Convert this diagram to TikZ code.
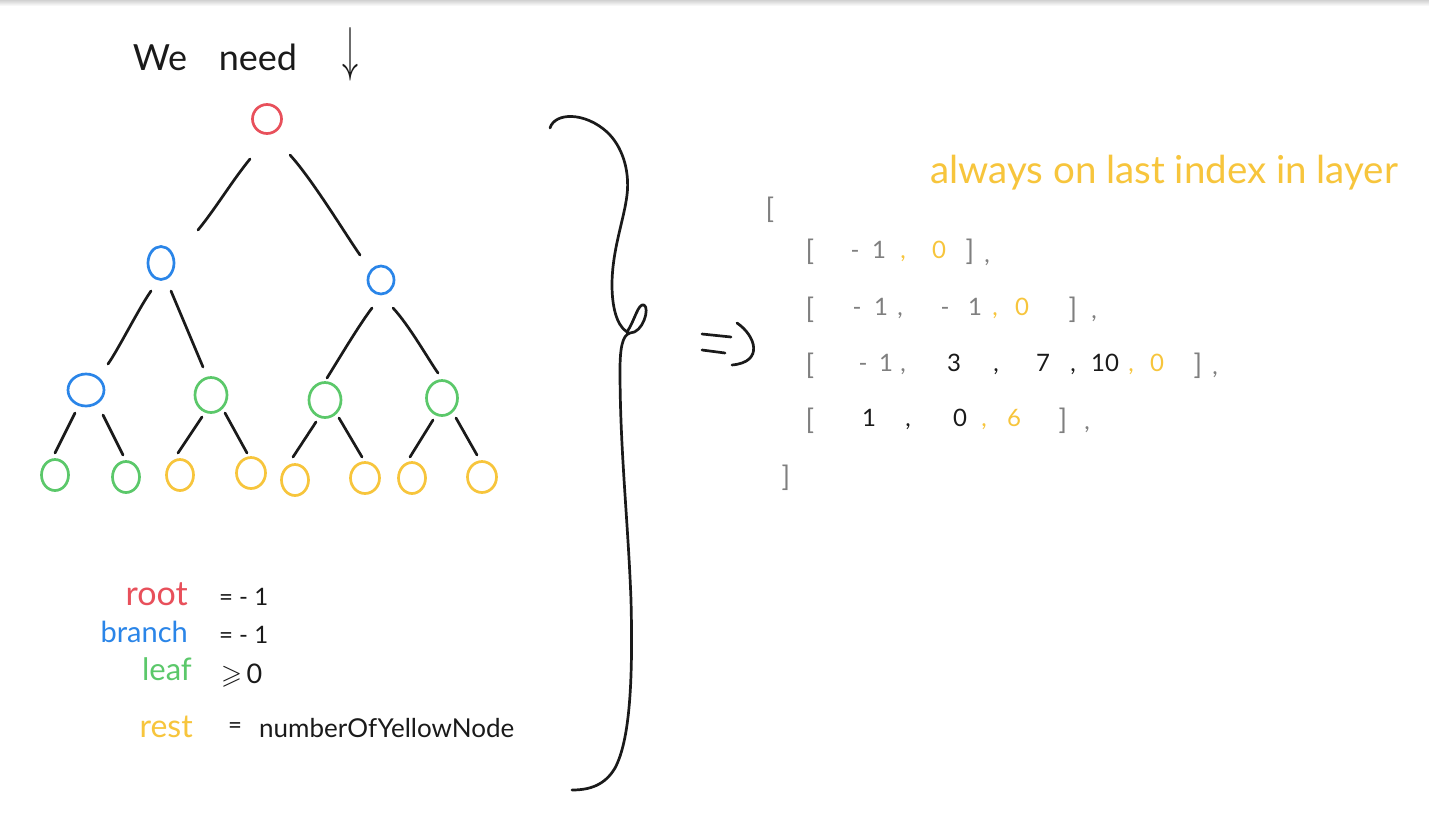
\documentclass[tikz,border=0pt]{standalone}
\usepackage{fontspec}
\setmainfont{Lato}
\usepackage{amssymb}
\usetikzlibrary{shapes.geometric,calc}
\definecolor{cred}{HTML}{E8505B}
\definecolor{cblue}{HTML}{2A85E8}
\definecolor{cgreen}{HTML}{5BC86A}
\definecolor{cyel}{HTML}{F7C53C}
\definecolor{cgray}{HTML}{7F7F7F}
\definecolor{cink}{HTML}{1A1A1A}
\tikzset{
  tn/.style={ellipse, draw, line width=2.7pt, inner sep=0pt, minimum width=27pt, minimum height=31pt},
  edge/.style={draw=cink, line width=2.7pt, line cap=round},
  pen/.style={draw=cink, line width=2.7pt, line cap=round, line join=round},
  tok/.style={anchor=base, inner sep=0pt, font=\fontsize{24}{28}\selectfont},
  brk/.style={anchor=base, inner sep=0pt, font=\fontsize{28}{32}\selectfont, text=cgray},
  leg/.style={anchor=base east, inner sep=0pt},
  val/.style={anchor=base west, inner sep=0pt, text=cink},
}
\newcommand\tk[5]{\node[tok,text=#4] (#1) at (#2,#3) {#5};}
\newcommand\bk[4]{\node[brk] (#1) at (#2,#3) {#4};}
\begin{document}
\begin{tikzpicture}[x=1pt,y=-1pt]
\useasboundingbox (0,0) rectangle (1429,838);
\fill[white] (0,0) rectangle (1429,838);
\shade[top color=black!18, bottom color=white] (0,0) rectangle (1429,6);

% title
\node[anchor=base, inner sep=0pt, font=\fontsize{36}{40}\selectfont, text=cink] (we) at (160,70) {We};
\node[anchor=base, inner sep=0pt, font=\fontsize{36}{40}\selectfont, text=cink] (need) at (258,70) {need};
\node[inner sep=0pt, text=cink] (arr) at (350,54) {\resizebox{16pt}{42pt}{$\downarrow$}};

% tree nodes
\node[tn, draw=cred, minimum width=29pt, minimum height=29pt] (root) at (267,119) {};
\node[tn, draw=cblue, minimum width=26pt, minimum height=33pt] (b1) at (161,263) {};
\node[tn, draw=cblue, minimum width=26pt, minimum height=28pt] (b2) at (381,280) {};
\node[tn, draw=cblue, minimum width=36pt, minimum height=32pt] (g1) at (86,390) {};
\node[tn, draw=cgreen, minimum width=32pt, minimum height=35pt] (g2) at (211,395) {};
\node[tn, draw=cgreen, minimum width=32pt, minimum height=35pt] (g3) at (325,400) {};
\node[tn, draw=cgreen, minimum width=31pt, minimum height=35pt] (g4) at (442,398) {};
\node[tn, draw=cgreen] (l1) at (55,475) {};
\node[tn, draw=cgreen] (l2) at (126,477) {};
\node[tn, draw=cyel] (l3) at (180,475) {};
\node[tn, draw=cyel, minimum width=29pt] (l4) at (251,473) {};
\node[tn, draw=cyel] (l5) at (295,480) {};
\node[tn, draw=cyel, minimum width=29pt] (l6) at (365,478) {};
\node[tn, draw=cyel] (l7) at (412,478) {};
\node[tn, draw=cyel, minimum width=29pt] (l8) at (482,477) {};

% tree edges
\draw[edge] ($(root)+(-17,40)$) .. controls ($(root)+(-35,62)$) and ($(b1)+(55,-55)$) .. ($(b1)+(37,-33)$);
\draw[edge] ($(root)+(23,36)$) .. controls ($(root)+(45,60)$) and ($(b2)+(-35,-45)$) .. ($(b2)+(-21,-25)$);
\draw[edge] ($(b1)+(-10,28)$) .. controls ($(b1)+(-22,45)$) and ($(g1)+(32,-40)$) .. ($(g1)+(22,-26)$);
\draw[edge] ($(b1)+(10,28)$) -- ($(g2)+(-8,-28)$);
\draw[edge] ($(b2)+(-9,28)$) .. controls ($(b2)+(-22,45)$) and ($(g3)+(12,-38)$) .. ($(g3)+(2,-22)$);
\draw[edge] ($(b2)+(12,28)$) .. controls ($(b2)+(28,45)$) and ($(g4)+(-12,-36)$) .. ($(g4)+(-4,-25)$);
\draw[edge] ($(g1)+(-11,23)$) -- ($(l1)+(0,-22)$);
\draw[edge] ($(g1)+(17,25)$) -- ($(l2)+(-3,-22)$);
\draw[edge] ($(g2)+(-9,22)$) -- ($(l3)+(-2,-22)$);
\draw[edge] ($(g2)+(14,18)$) -- ($(l4)+(-4,-20)$);
\draw[edge] ($(g3)+(-9,22)$) -- ($(l5)+(-2,-23)$);
\draw[edge] ($(g3)+(14,18)$) -- ($(l6)+(-3,-21)$);
\draw[edge] ($(g4)+(-9,22)$) -- ($(l7)+(-2,-21)$);
\draw[edge] ($(g4)+(14,20)$) -- ($(l8)+(-5,-22)$);

% legend
\node[leg, text=cred, font=\fontsize{34}{38}\selectfont] (kroot) at (188,605) {root};
\node[leg, text=cblue, font=\fontsize{29}{34}\selectfont] (kbranch) at (188,642) {branch};
\node[leg, text=cgreen, font=\fontsize{31}{34}\selectfont] (kleaf) at (192,680) {leaf};
\node[leg, text=cyel, font=\fontsize{32}{36}\selectfont] (krest) at (193,737) {rest};
\node[val, font=\fontsize{24}{28}\selectfont] (vroot) at (219,605) {= - 1};
\node[val, font=\fontsize{24}{28}\selectfont] (vbranch) at (219,643) {= - 1};
\node[val, font=\fontsize{27}{30}\selectfont] (vleaf) at (221,683) {$\geqslant$\,0};
\node[val, font=\fontsize{24}{28}\selectfont] (veq) at (228,733) {=};
\node[val, font=\fontsize{26}{30}\selectfont] (vrest) at (259,737) {numberOfYellowNode};

% big brace
\draw[pen] (550,128) .. controls (555,112) and (585,112) .. (607,132)
  .. controls (622,146) and (630,170) .. (627,195)
  .. controls (624,220) and (612,250) .. (612,285)
  .. controls (612,305) and (616,325) .. (627,332)
  .. controls (635,320) and (638,303) .. (644,305)
  .. controls (650,308) and (643,333) .. (630,333)
  .. controls (622,335) and (620,350) .. (620,370)
  .. controls (620,450) and (628,520) .. (631,600)
  .. controls (633,680) and (630,740) .. (615,768)
  .. controls (605,785) and (590,790) .. (572,790);

% implies
\coordinate (i1a) at (702,334); \coordinate (i1b) at (731,337);
\coordinate (i2a) at (702,350); \coordinate (i2b) at (725,353);
\coordinate (i3a) at (737,323); \coordinate (i3b) at (732,365);
\draw[pen] (i1a) -- (i1b);
\draw[pen] (i2a) -- (i2b);
\draw[pen] (i3a) .. controls (755,335) and (765,362) .. (i3b);

% note
\node[anchor=base west, inner sep=0pt, text=cyel, font=\fontsize{38.5}{42}\selectfont] (note) at (930,183) {always on last index in layer};

% array
\bk{o1}{770}{218}{[}
\bk{o2}{786}{486}{]}
% row 1
\bk{a1}{810}{260}{[}
\tk{a2}{855}{258}{cgray}{-}
\tk{a3}{879}{258}{cgray}{1}
\tk{a4}{903}{258}{cyel}{,}
\tk{a5}{939}{258}{cyel}{0}
\bk{a6}{970}{260}{]}
\tk{a7}{987}{262}{cgray}{,}
% row 2
\bk{b1k}{810}{318}{[}
\tk{b2k}{857}{315}{cgray}{-}
\tk{b3k}{881}{315}{cgray}{1}
\tk{b4k}{900}{315}{cgray}{,}
\tk{b5k}{945}{315}{cgray}{-}
\tk{b6k}{975}{315}{cgray}{1}
\tk{b7k}{995}{315}{cyel}{,}
\tk{b8k}{1022}{315}{cyel}{0}
\bk{b9k}{1073}{318}{]}
\tk{b10k}{1094}{318}{cgray}{,}
% row 3
\bk{c1}{810}{374}{[}
\tk{c2}{863}{371}{cgray}{-}
\tk{c3}{886}{371}{cgray}{1}
\tk{c4}{903}{371}{cgray}{,}
\tk{c5}{954}{371}{cink}{3}
\tk{c6}{996}{371}{cink}{,}
\tk{c7}{1043}{371}{cink}{7}
\tk{c8}{1073}{371}{cink}{,}
\tk{c9}{1105}{371}{cink}{10}
\tk{c10}{1131}{371}{cyel}{,}
\tk{c11}{1157}{371}{cyel}{0}
\bk{c12}{1198}{374}{]}
\tk{c13}{1215}{374}{cgray}{,}
% row 4
\bk{d1}{810}{429}{[}
\tk{d2}{869}{426}{cink}{1}
\tk{d3}{908}{426}{cink}{,}
\tk{d4}{960}{426}{cink}{0}
\tk{d5}{984}{426}{cyel}{,}
\tk{d6}{1014}{426}{cyel}{6}
\bk{d7}{1063}{429}{]}
\tk{d8}{1087}{429}{cgray}{,}
\end{tikzpicture}
\end{document}
